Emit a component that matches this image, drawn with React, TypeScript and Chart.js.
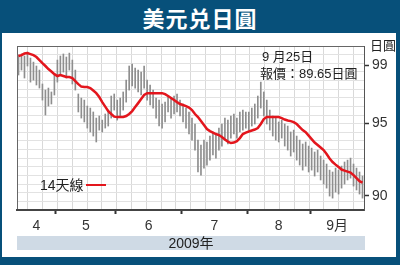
import React, { useEffect, useRef } from "react";
import { Chart, registerables } from "chart.js";

Chart.register(...registerables);

// ---- data (USD/JPY, 2009, daily) ----
const monthLabels = ["4", "5", "6", "7", "8", "9月"];
const monthCenters = [6, 22.5, 43.5, 65.5, 87, 106.5];
const monthBoundaries = [12.5, 32.5, 54.5, 76.5, 97.5];
const yTickValues = [90, 95, 99];

const highs = [
  99.71, 99.78, 99.64, 99.91, 99.5, 99.22, 98.95, 98.67, 97.71, 97.29, 97.43, 97.16, 98.33,
  99.36, 99.64, 99.78, 99.57, 99.84, 99.36, 98.67, 97.02, 96.74, 96.6, 96.19, 96.05, 95.78, 95.36, 95.5, 95.22, 95.64, 95.91, 96.88, 97.02,
  96.6, 96.74, 97.16, 97.98, 98.95, 99.09, 98.81, 98.67, 98.53, 98.95, 97.98, 97.64, 97.29, 96.74, 96.6, 96.33, 96.46, 96.88, 96.74, 96.88, 97.02, 96.6,
  96.33, 96.05, 95.78, 95.36, 94.95, 93.84, 93.5, 93.84, 93.71, 94.12, 94.4, 94.26, 94.67, 94.95, 95.36, 95.22, 95.5, 95.64, 95.36, 95.78, 95.91, 95.78,
  95.78, 96.05, 96.33, 96.88, 97.84, 97.16, 96.6, 95.91, 95.5, 95.36, 95.09, 95.22, 94.95, 94.81, 94.4, 94.53, 94.12, 93.84, 93.57, 93.71, 93.43,
  93.29, 93.02, 93.15, 92.74, 92.46, 92.19, 91.77, 91.64, 91.91, 91.77, 92.05, 92.33, 92.46, 92.6, 92.19, 91.91, 91.64, 91.36,
];

const lows = [
  98.33, 98.67, 98.12, 98.95, 97.84, 97.98, 97.64, 97.43, 96.6, 95.57, 96.19, 96.33, 96.95,
  97.84, 98.33, 98.53, 98.12, 98.67, 97.71, 97.29, 95.78, 95.36, 95.09, 94.67, 94.4, 94.12, 93.71, 94.53, 94.4, 94.67, 94.81, 95.36, 95.91,
  95.22, 95.5, 95.91, 96.46, 97.29, 97.57, 97.43, 97.16, 96.95, 97.43, 96.6, 96.26, 96.05, 95.36, 94.81, 94.67, 95.09, 95.78, 95.36, 95.64, 95.78, 95.5,
  95.09, 94.67, 94.26, 93.84, 93.15, 91.64, 91.43, 91.91, 92.12, 92.46, 92.81, 92.6, 93.15, 93.43, 93.84, 93.57, 93.98, 94.26, 93.98, 94.4, 94.53, 94.67,
  94.53, 94.81, 94.95, 95.36, 96.05, 95.5, 94.95, 94.53, 94.12, 93.84, 93.71, 93.98, 93.43, 93.15, 92.74, 93.02, 92.46, 92.12, 91.77, 92.05, 91.64,
  91.77, 91.36, 91.64, 91.09, 90.81, 90.53, 89.98, 89.84, 90.26, 90.12, 90.53, 90.81, 91.09, 91.22, 90.67, 90.4, 90.12, 89.84,
];

const ma14 = [
  99.64, 99.7, 99.81, 99.84, 99.77, 99.7, 99.57, 99.36, 99.15, 98.95, 98.74, 98.57, 98.39,
  98.26, 98.33, 98.26, 98.19, 98.19, 98.12, 97.91, 97.7, 97.53, 97.5, 97.5, 97.43, 97.26, 97.08, 96.81, 96.46, 96.15, 95.84, 95.64, 95.46,
  95.43, 95.43, 95.43, 95.5, 95.64, 95.84, 96.12, 96.39, 96.67, 96.95, 97.08, 97.08, 97.08, 97.08, 97.08, 97.08, 97.01, 96.88, 96.74, 96.6, 96.46, 96.33,
  96.26, 96.19, 96.08, 95.91, 95.64, 95.43, 95.15, 94.88, 94.6, 94.46, 94.36, 94.26, 94.19, 94.05, 93.88, 93.74, 93.64, 93.67, 93.77, 93.98, 94.26, 94.36,
  94.43, 94.5, 94.57, 94.67, 94.95, 95.29, 95.43, 95.43, 95.43, 95.43, 95.43, 95.36, 95.26, 95.19, 95.15, 95.08, 94.95, 94.74, 94.53, 94.39, 94.15,
  93.91, 93.67, 93.5, 93.33, 93.15, 92.88, 92.57, 92.33, 92.15, 91.98, 91.81, 91.74, 91.67, 91.6, 91.43, 91.22, 91.01, 90.91,
];

const FONT = "'Liberation Sans', 'Noto Sans CJK TC', sans-serif";
const BLUE = "#07507a";

export default function App() {
  const ref = useRef<HTMLCanvasElement | null>(null);

  useEffect(() => {
    document.body.style.margin = "0";
    const canvas = ref.current;
    if (!canvas) return;
    Chart.defaults.font.family = FONT;
    const chart = new Chart(canvas, {
      type: "bar",
      data: {
        datasets: [
          {
            type: "line",
            label: "14天線",
            data: ma14.map((v, i) => ({ x: i, y: v })),
            borderColor: "#e3161d",
            borderWidth: 2.5,
            pointRadius: 0,
            tension: 0,
            xAxisID: "x",
            yAxisID: "y",
            order: 0,
          } as any,
          {
            type: "bar",
            label: "range",
            data: highs.map((h, i) => ({ x: i, y: [lows[i], h] })),
            backgroundColor: "#8e8e8e",
            barThickness: 1,
            grouped: false,
            xAxisID: "x",
            yAxisID: "y",
            order: 1,
          } as any,
        ],
      },
      options: {
        animation: false,
        responsive: false,
        maintainAspectRatio: false,
        layout: { padding: { left: 17, top: 13, right: 0, bottom: 0 } },
        plugins: { legend: { display: false }, tooltip: { enabled: false } },
        scales: {
          gx: {
            type: "linear",
            position: "top",
            min: -0.71,
            max: 21.68,
            afterBuildTicks: (s: any) => {
              s.ticks = Array.from({ length: 22 }, (_, k) => ({ value: k }));
            },
            afterFit: (s: any) => {
              s.height = 0;
            },
            ticks: { display: false },
            grid: { color: "#d9d9d9", drawTicks: false, lineWidth: 1 },
            border: { display: true, color: "#666", width: 1 },
          },
          gy: {
            type: "linear",
            position: "left",
            min: 0,
            max: 19,
            afterBuildTicks: (s: any) => {
              s.ticks = Array.from({ length: 20 }, (_, k) => ({ value: k }));
            },
            afterFit: (s: any) => {
              s.width = 0;
            },
            ticks: { display: false },
            grid: { color: "#e2e2e2", drawTicks: false, lineWidth: 1 },
            border: { display: true, color: "#666", width: 1 },
          },
          x: {
            type: "linear",
            position: "bottom",
            min: -0.5,
            max: 115.5,
            offset: false,
            afterBuildTicks: (s: any) => {
              s.ticks = [...monthBoundaries, ...monthCenters]
                .sort((a, b) => a - b)
                .map((v) => ({ value: v }));
            },
            afterFit: (s: any) => {
              s.height = 46;
            },
            ticks: {
              autoSkip: false,
              maxRotation: 0,
              padding: 4,
              color: "#333",
              font: { size: 14, family: FONT },
              callback: (v: any) => {
                const k = monthCenters.indexOf(Number(v));
                return k >= 0 ? monthLabels[k] : "";
              },
            },
            grid: {
              offset: false,
              drawOnChartArea: false,
              tickLength: 4,
              tickWidth: 2,
              tickColor: (ctx: any) =>
                ctx.tick && monthBoundaries.includes(ctx.tick.value) ? "#333" : "rgba(0,0,0,0)",
            },
            border: { display: true, color: "#444", width: 2 },
          },
          y: {
            type: "linear",
            position: "right",
            min: 89.02,
            max: 100.33,
            afterBuildTicks: (s: any) => {
              s.ticks = yTickValues.map((v) => ({ value: v }));
            },
            afterFit: (s: any) => {
              s.width = 36;
            },
            ticks: {
              padding: 3,
              color: "#333",
              font: { size: 14, family: FONT },
              callback: (v: any) => String(v),
            },
            grid: { drawOnChartArea: false, tickLength: 5, tickColor: "#333", tickWidth: 1.5 },
            border: { display: true, color: "#555", width: 1 },
          },
        },
      } as any,
    });
    return () => chart.destroy();
  }, []);

  const txt: React.CSSProperties = {
    position: "absolute",
    fontFamily: FONT,
    color: "#222",
    whiteSpace: "nowrap",
    lineHeight: 1,
  };

  return (
    <div
      style={{
        position: "fixed",
        left: 0,
        top: 0,
        width: 400,
        height: 265,
        background: BLUE,
        overflow: "hidden",
      }}
    >
      <div
        style={{
          position: "absolute",
          left: 0,
          top: 0,
          width: 400,
          height: 33,
          display: "flex",
          alignItems: "center",
          justifyContent: "center",
          color: "#fff",
          fontFamily: "'Noto Sans CJK TC', sans-serif",
          fontWeight: 700,
          fontSize: 22,
          letterSpacing: 1,
        }}
      >
        美元兑日圓
      </div>
      <div
        style={{
          position: "absolute",
          left: 2,
          top: 33,
          width: 394,
          height: 224,
          background: "#fff",
        }}
      />
      <canvas
        ref={ref}
        width={400}
        height={223}
        style={{ position: "absolute", left: 0, top: 33, width: 400, height: 223 }}
      />
      <div style={{ ...txt, left: 370, top: 39, fontSize: 13 }}>日圓</div>
      <div style={{ ...txt, left: 262, top: 50, fontSize: 13 }}>9 月25日</div>
      <div style={{ ...txt, left: 260, top: 67, fontSize: 13 }}>報價：89.65日圓</div>
      <div style={{ ...txt, left: 40, top: 178, fontSize: 14 }}>14天線</div>
      <div
        style={{
          position: "absolute",
          left: 86,
          top: 184,
          width: 20,
          height: 2,
          background: "#e3161d",
        }}
      />
      <div
        style={{
          ...txt,
          left: 17,
          top: 236,
          width: 348,
          height: 14,
          background: "#cfdae5",
          fontSize: 14,
          textAlign: "center",
          lineHeight: "14px",
        }}
      >
        2009年
      </div>
    </div>
  );
}
